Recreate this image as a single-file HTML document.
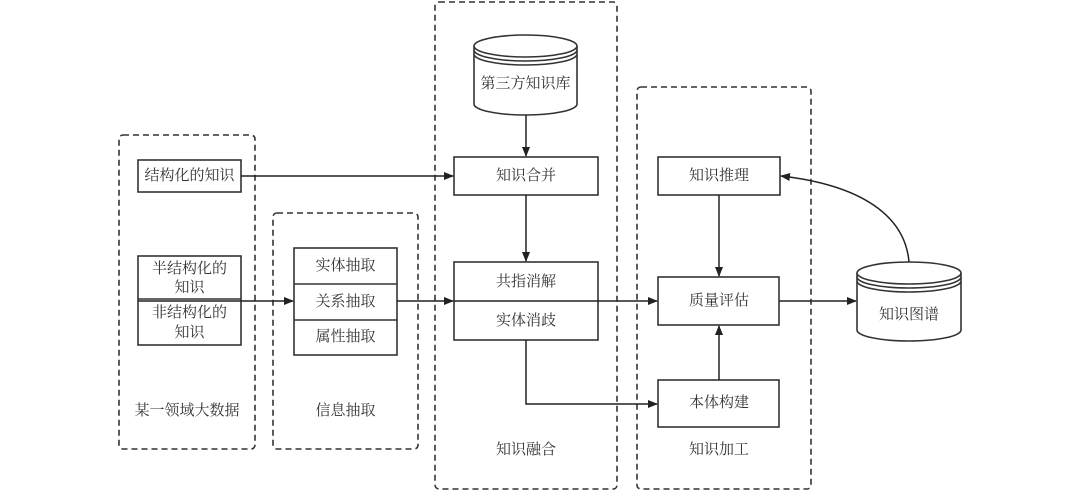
<!DOCTYPE html>
<html><head><meta charset="utf-8"><style>
html,body{margin:0;padding:0;background:#fff;}
svg text{font-family:"Liberation Serif","Noto Serif CJK SC","Noto Sans CJK SC",serif;font-size:15px;fill:#333;text-anchor:middle;dominant-baseline:central;}
</style></head><body>
<svg width="1080" height="492" viewBox="0 0 1080 492" xmlns="http://www.w3.org/2000/svg">
<defs><marker id="a" markerWidth="10" markerHeight="8" refX="9" refY="4" orient="auto" markerUnits="userSpaceOnUse"><path d="M0,0 L10,4 L0,8 z" fill="#222"/></marker></defs>
<g fill="none" stroke="#333" stroke-width="1.6" stroke-dasharray="6,4">
<rect x="119" y="135" width="136" height="314" rx="4"/>
<rect x="273" y="213" width="145" height="236" rx="4"/>
<rect x="435" y="2" width="182" height="487" rx="4"/>
<rect x="637" y="87" width="174" height="402" rx="4"/>
</g>
<g fill="#fff" stroke="#333" stroke-width="1.6">
<rect x="138" y="160" width="103" height="32"/>
<rect x="138" y="256" width="103" height="89"/>
<line x1="138" y1="299" x2="241" y2="299"/>
<rect x="294" y="248" width="103" height="107"/>
<line x1="294" y1="284" x2="397" y2="284"/><line x1="294" y1="320" x2="397" y2="320"/>
<rect x="454" y="157" width="144" height="38"/>
<rect x="454" y="262" width="144" height="78"/>
<rect x="658" y="157" width="122" height="38"/>
<rect x="658" y="277" width="121" height="48"/>
<rect x="658" y="380" width="121" height="47"/>
<path d="M474,46 A51.5,11 0 0 1 577,46 L577,104 A51.5,11 0 0 1 474,104 Z"/>
<path d="M474,50 A51.5,11 0 0 0 577,50 M474,54 A51.5,11 0 0 0 577,54 M474,46 A51.5,11 0 0 0 577,46"/>
<path d="M857,273 A52,11 0 0 1 961,273 L961,330 A52,11 0 0 1 857,330 Z"/>
<path d="M857,273 A52,11 0 0 0 961,273 M857,277 A52,11 0 0 0 961,277 M857,281 A52,11 0 0 0 961,281"/>
</g>
<g stroke="#222" stroke-width="1.5" fill="none" marker-end="url(#a)">
<line x1="241" y1="176" x2="453" y2="176"/>
<line x1="138" y1="301" x2="293" y2="301"/>
<line x1="397" y1="301" x2="453" y2="301"/>
<line x1="454" y1="301" x2="657" y2="301"/>
<line x1="779" y1="301" x2="856" y2="301"/>
<line x1="526" y1="115" x2="526" y2="156"/>
<line x1="526" y1="195" x2="526" y2="261"/>
<line x1="719" y1="195" x2="719" y2="276"/>
<line x1="719" y1="380" x2="719" y2="326"/>
<polyline points="526,340 526,404 657,404"/>
<path d="M909,262 C905,215 860,185 781,176"/>
</g>
<text x="189.5" y="176">结构化的知识</text>
<text x="189.5" y="269">半结构化的</text><text x="189.5" y="288">知识</text>
<text x="189.5" y="313">非结构化的</text><text x="189.5" y="333">知识</text>
<text x="345.5" y="266">实体抽取</text><text x="345.5" y="302">关系抽取</text><text x="345.5" y="337">属性抽取</text>
<text x="187" y="411">某一领域大数据</text>
<text x="345.5" y="411">信息抽取</text>
<text x="525.5" y="84">第三方知识库</text>
<text x="526" y="176">知识合并</text>
<text x="526" y="282">共指消解</text><text x="526" y="321">实体消歧</text>
<text x="526" y="450">知识融合</text>
<text x="719" y="176">知识推理</text>
<text x="719" y="301">质量评估</text>
<text x="719" y="403">本体构建</text>
<text x="719" y="450">知识加工</text>
<text x="909" y="315">知识图谱</text>
</svg>
</body></html>
